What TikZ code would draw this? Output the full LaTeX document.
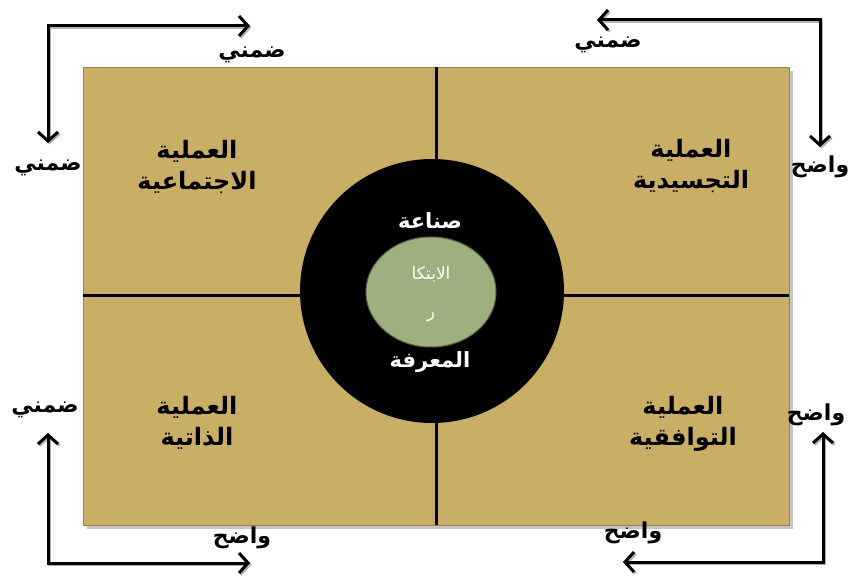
\documentclass[tikz,border=0pt]{standalone}
\usepackage{fontspec}
\newfontfamily\arabicfont[Script=Arabic]{DejaVu Sans}
\TeXXeTstate=1
\usepackage{tikz}
\usetikzlibrary{shapes.geometric, arrows.meta, positioning, shadows}

\definecolor{khaki}{RGB}{201,175,102}
\definecolor{sage}{RGB}{157,176,126}
\newcommand{\artext}[1]{\beginR#1\endR}

\begin{document}
\begin{tikzpicture}[
    x=1pt, y=-1pt,
    font=\arabicfont\bfseries,
    >={Straight Barb[length=9pt, width=20pt]},
    board/.style={draw=khaki!75!black, fill=khaki, minimum width=706pt, minimum height=458pt, inner sep=0pt, drop shadow={shadow xshift=4pt, shadow yshift=-4pt, fill=black!45}},
    divider/.style={line width=3pt, black},
    hub/.style={circle, fill=black, minimum size=264pt, inner sep=0pt},
    core/.style={ellipse, fill=sage, draw=sage!60!black, line width=1pt, minimum width=130pt, minimum height=110pt},
    proc/.style={align=center, text=black, font=\arabicfont\bfseries\fontsize{24}{31}\selectfont},
    hubtxt/.style={text=white, font=\arabicfont\bfseries\fontsize{21}{24}\selectfont},
    lbl/.style={text=black, font=\arabicfont\bfseries\fontsize{22}{26}\selectfont},
    flow/.style={<->, line width=3pt, preaction={draw=black!30, line width=3pt, transform canvas={shift={(1.5pt,-1.5pt)}}}}
]
\useasboundingbox (0,0) rectangle (849,577);

% Board and quadrants
\node[board] (board) at (436,296) {};
\draw[divider] (board.north) -- (board.south);
\draw[divider] (board.west) -- (board.east);

% Centre
\node[hub] (hub) at (432,291) {};
\node[core] (core) at (431,292) {};
\node[hubtxt] (make) at (430,221) {\artext{صناعة}};
\node[hubtxt, font=\arabicfont\fontsize{17}{38}\selectfont, align=center] (innov) at (431,294) {\artext{الابتكا}\\\artext{ر}};
\node[hubtxt] (know) at (430,362) {\artext{المعرفة}};

% Processes
\node[proc] (social) at (197,167) {\artext{العملية}\\\artext{الاجتماعية}};
\node[proc] (embody) at (691,166) {\artext{العملية}\\\artext{التجسيدية}};
\node[proc] (self) at (197,423) {\artext{العملية}\\\artext{الذاتية}};
\node[proc] (combine) at (683,424) {\artext{العملية}\\\artext{التوافقية}};

% Labels
\node[lbl] (tlTop) at (252,55) {\artext{ضمني}};
\node[lbl] (tlSide) at (48,168) {\artext{ضمني}};
\node[lbl] (trTop) at (608,45) {\artext{ضمني}};
\node[lbl] (trSide) at (820,167) {\artext{واضح}};
\node[lbl] (blSide) at (45,410) {\artext{ضمني}};
\node[lbl] (blBot) at (242,538) {\artext{واضح}};
\node[lbl] (brSide) at (816,415) {\artext{واضح}};
\node[lbl] (brBot) at (633,533) {\artext{واضح}};

% Arrow ends
\coordinate (tlA) at (48,143);
\coordinate (tlB) at (250,26);
\coordinate (trA) at (597,20);
\coordinate (trB) at (820,147);
\coordinate (blA) at (48,433);
\coordinate (blB) at (250,563);
\coordinate (brA) at (823,432);
\coordinate (brB) at (623,562);

% Arrows
\draw[flow] (tlA) |- (tlB);
\draw[flow] (trA) -| (trB);
\draw[flow] (blA) |- (blB);
\draw[flow] (brA) |- (brB);

\end{tikzpicture}
\end{document}
